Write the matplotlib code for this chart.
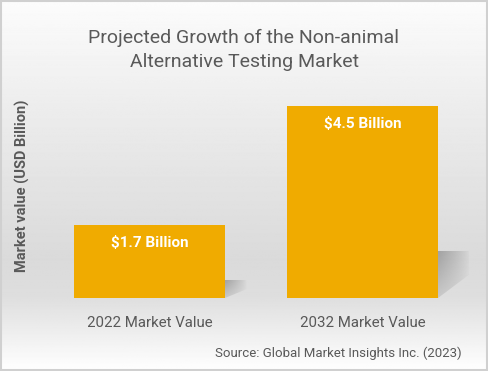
import numpy as np
import matplotlib
matplotlib.use("Agg")
import matplotlib.pyplot as plt
from matplotlib.patches import Polygon, Rectangle

plt.rcParams['font.family'] = ['Roboto', 'DejaVu Sans']

# data
categories = ['2022 Market Value', '2032 Market Value']
values = [1.7, 4.5]
bar_labels = ['$1.7 Billion', '$4.5 Billion']

title = 'Projected Growth of the Non-animal\nAlternative Testing Market'
y_label = 'Market value (USD Billion)'
source = 'Source: Global Market Insights Inc. (2023)'

txt_color = '#595959'
bar_color = '#F0AB00'

W, H = 488, 371
fig = plt.figure(figsize=(W / 100, H / 100), dpi=100)

# background: soft vertical gradient (white -> grey -> white)
bg = fig.add_axes([0, 0, 1, 1], zorder=-10)
stops_y = [0, 0.30, 0.70, 0.80, 1.0]
stops_c = [252, 236, 218, 222, 255]
yy = np.linspace(0, 1, 400)
col = np.interp(yy, stops_y, stops_c) / 255
img = np.repeat(col[:, None], 2, axis=1)
bg.imshow(img, cmap='gray', vmin=0, vmax=1, aspect='auto', extent=[0, 1, 1, 0])
bg.set_xlim(0, 1)
bg.set_ylim(1, 0)
bg.axis('off')

# plot area
ax_left, ax_right = 43 / W, 469 / W
ax_bottom = 73 / H
ymax = 5.5
ax_height = ymax * 42.7 / H
ax = fig.add_axes([ax_left, ax_bottom, ax_right - ax_left, ax_height])
ax.patch.set_alpha(0)

x = np.arange(len(categories))
width = 0.71
bars = ax.bar(x, values, width=width, color=bar_color, zorder=3)

# perspective shadow behind each bar: gradient image clipped to a polygon
gx = np.linspace(0, 1, 64)
gy = np.linspace(0, 1, 64)
GX, GY = np.meshgrid(gx, gy)
shade = np.zeros((64, 64, 4))
shade[..., :3] = 0.45
shade[..., 3] = 0.55 * (1 - GX) ** 0.8 * (0.35 + 0.65 * GY)
for b in bars:
    x1 = b.get_x() + b.get_width()
    h = b.get_height()
    sh = h * 0.245
    dx = 0.07 + 0.018 * h
    poly = Polygon([(x1, 0), (x1, sh), (x1 + dx, sh), (x1 + dx, sh * 0.5)],
                   closed=True, facecolor='none', edgecolor='none')
    ax.add_patch(poly)
    im = ax.imshow(shade, extent=[x1, x1 + dx, 0, sh], origin='lower',
                   aspect='auto', zorder=2, interpolation='bilinear')
    im.set_clip_path(poly)

for b, lab in zip(bars, bar_labels):
    ax.annotate(lab, (b.get_x() + b.get_width() / 2, b.get_height()),
                xytext=(0, -13), textcoords='offset points',
                ha='center', va='center', color='white',
                fontsize=11, fontweight='bold', zorder=4)

ax.set_xlim(-0.5, 1.5)
ax.set_ylim(0, ymax)
ax.set_aspect('auto')
ax.set_xticks(x)
ax.set_xticklabels(categories, fontsize=10.8, color=txt_color)
ax.tick_params(axis='x', length=0, pad=13)
ax.set_yticks([])
for s in ax.spines.values():
    s.set_visible(False)

fig.text(0.5, 1 - 50 / H, title, ha='center', va='center',
         fontsize=14, color=txt_color, linespacing=1.4)
fig.text(22 / W, 1 - 186 / H, y_label, rotation=90, ha='center', va='center',
         fontsize=10.5, fontweight='bold', color=txt_color)
fig.text(462 / W, 1 - 353 / H, source, ha='right', va='center',
         fontsize=9.5, color=txt_color)

# thin frame round the picture
fig.add_artist(Rectangle((0.002, 0.003), 0.996, 0.994, transform=fig.transFigure,
                         fill=False, edgecolor='#d0d0d0', linewidth=1.5))

fig.savefig('out.png', dpi=100)
